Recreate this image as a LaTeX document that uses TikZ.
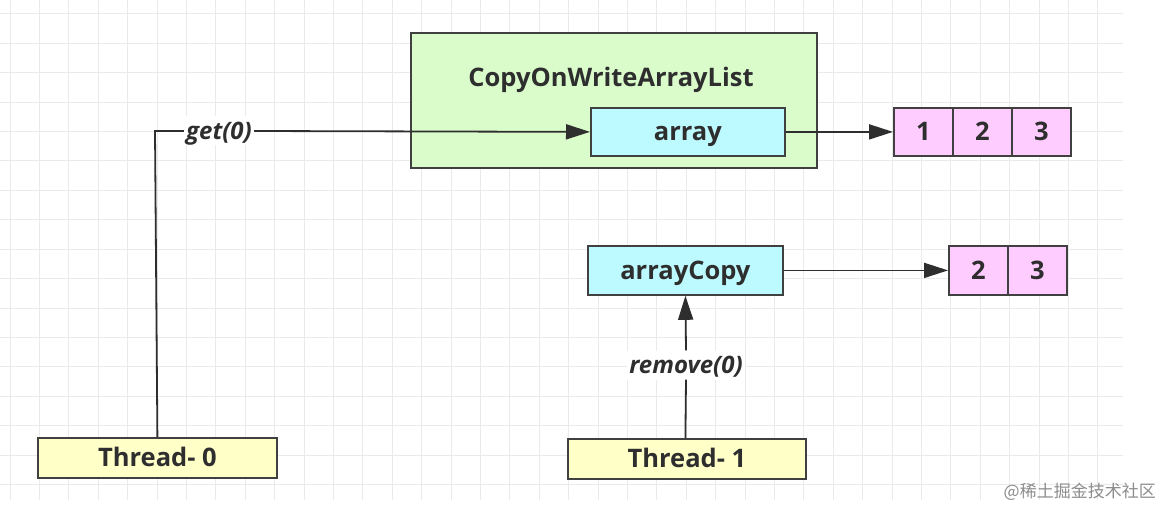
\documentclass[tikz,border=0pt]{standalone}
\usepackage{fontspec}
\setmainfont{Open Sans}
\newfontfamily\cjk{Noto Sans CJK SC}
\usetikzlibrary{arrows.meta}
\definecolor{ink}{HTML}{2E2E2E}
\definecolor{edge}{HTML}{404040}
\definecolor{gridc}{HTML}{EAEAEA}
\definecolor{greenf}{HTML}{DAFCCB}
\definecolor{cyanf}{HTML}{BDFAFF}
\definecolor{pinkf}{HTML}{FFCCFF}
\definecolor{yellowf}{HTML}{FFFFC8}
\tikzset{
  txt/.style={text=ink, font=\fontsize{25.5}{28}\selectfont\bfseries, text height=24pt, text depth=6pt, inner sep=0pt},
  box/.style={txt, draw=edge, line width=1.8pt, anchor=north west},
  cell/.style={box, fill=pinkf, minimum width=59pt, minimum height=48pt},
  conn/.style={draw=ink, line width=1.8pt, -{Triangle[length=24pt,width=15pt]}},
  plain/.style={draw=ink, line width=1.8pt},
  lbl/.style={text=ink, font=\fontsize{24}{27}\selectfont\bfseries\itshape, text height=23pt, text depth=6pt, inner xsep=2pt, inner ysep=0pt}
}
\begin{document}
\begin{tikzpicture}[x=1pt,y=-1pt]
\useasboundingbox (0,0) rectangle (1162,508);
\fill[white] (0,0) rectangle (1162,508);
% grid
\foreach \i in {0,...,37} \draw[gridc, line width=1pt] (10+29.4*\i,0) -- (10+29.4*\i,500);
\foreach \j in {0,...,16} \draw[gridc, line width=1pt] (0,14+29.4*\j) -- (1123,14+29.4*\j);
% main list
\node[box, fill=greenf, minimum width=406pt, minimum height=135pt] (cow) at (410,32) {};
\node[txt] (cowt) at (611,78) {CopyOnWriteArrayList};
\node[box, fill=cyanf, minimum width=194pt, minimum height=48pt] (arr) at (590,107) {array};
% cells 1 2 3
\node[cell] (c1) at (893,107) {1};
\node[cell] (c2) at (952,107) {2};
\node[cell] (c3) at (1011,107) {3};
% arrayCopy
\node[box, fill=cyanf, minimum width=195pt, minimum height=49pt] (acp) at (587,245) {arrayCopy};
\node[cell, minimum height=49pt] (d2) at (948,245) {2};
\node[cell, minimum height=49pt] (d3) at (1007,245) {3};
% threads
\node[box, fill=yellowf, minimum width=239pt, minimum height=40pt] (t0) at (37,437) {Thread- 0};
\node[box, fill=yellowf, minimum width=238pt, minimum height=40pt] (t1) at (567,438) {Thread- 1};
% connectors
\coordinate (corner) at (155,131);
\node[lbl, fill=white] (getl) at (219,131) {get(0)};
\draw[plain] (t0.north) -- (corner) -- (getl.west);
\draw[conn] (getl.east) -- (arr.west);
\draw[conn] (arr.east) -- (c1.west);
\draw[conn] (acp.east) -- (d2.west);
\node[lbl, fill=white] (reml) at (686,365) {remove(0)};
\draw[plain] (t1.north -| acp.south) -- (reml.south);
\draw[conn] (reml.north) -- (acp.south);
% watermark
\node[anchor=east, text=black!45, font=\cjk\fontsize{17}{20}\selectfont, inner sep=0pt] (wm) at (1156,492) {@稀土掘金技术社区};
\end{tikzpicture}
\end{document}
